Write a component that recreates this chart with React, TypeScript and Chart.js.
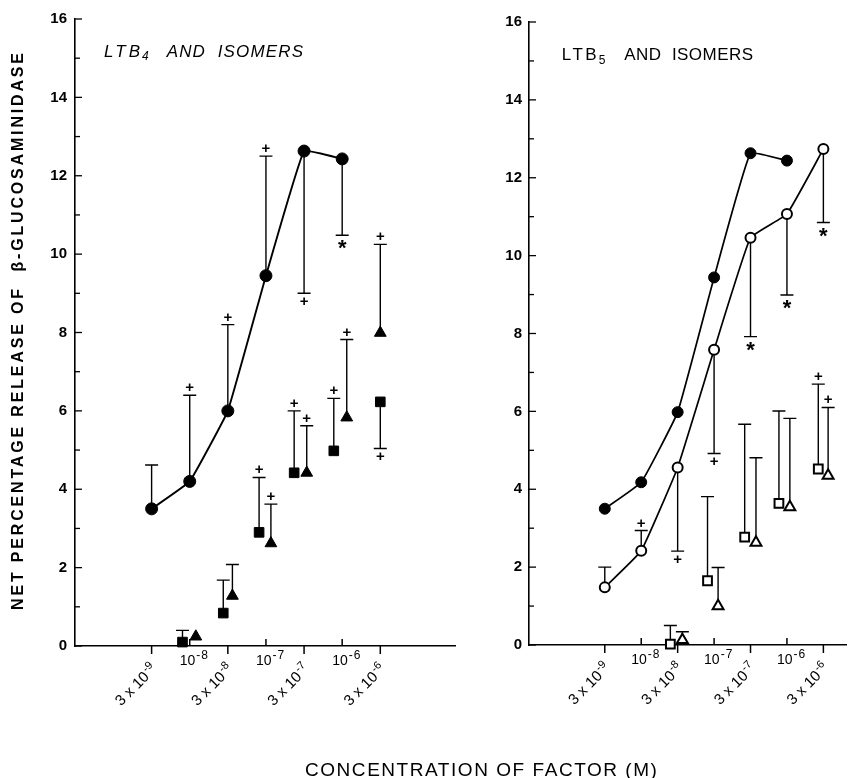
import React, { useEffect, useRef } from 'react';
import { Chart, registerables } from 'chart.js';

Chart.register(...registerables);

const FONT = '"Liberation Sans", Arial, Helvetica, sans-serif';

// ---------- concentration axis (equally spaced categories) ----------
const concIndex = [0, 1, 2, 3, 4, 5, 6];
const tickMantissa = ['3', '', '3', '', '3', '', '3'];
const tickExponent = ['-9', '-8', '-8', '-7', '-7', '-6', '-6'];
const yTickValues = [0, 2, 4, 6, 8, 10, 12, 14, 16];

// ---------- left panel: LTB4 and isomers ----------
const ltb4Idx = [0, 1, 2, 3, 4, 5];
const ltb4Values = [3.5, 4.2, 6.0, 9.45, 12.63, 12.43];
const ltb4ErrEnd = [4.62, 6.4, 8.2, 12.5, 9.0, 10.48];
const ltb4Sig = ['', '+', '+', '+', '+', '*'];

const iso4SqIdx = [1, 2, 3, 4, 5, 6];
const iso4SqValues = [0.1, 0.84, 2.9, 4.42, 4.98, 6.23];
const iso4SqErrEnd = [0.4, 1.68, 4.3, 6.0, 6.32, 5.04];
const iso4SqSig = ['', '', '+', '+', '+', '+'];

const iso4TriIdx = [1, 2, 3, 4, 5, 6];
const iso4TriValues = [0.24, 1.28, 2.62, 4.42, 5.83, 7.99];
const iso4TriErrEnd = [null, 2.08, 3.62, 5.62, 7.82, 10.25];
const iso4TriSig = ['', '', '+', '+', '+', '+'];

// ---------- right panel: LTB5 and isomers ----------
const ltb4RefIdx = [0, 1, 2, 3, 4, 5];
const ltb4RefValues = [3.5, 4.18, 5.98, 9.44, 12.63, 12.44];

const ltb5Idx = [0, 1, 2, 3, 4, 5, 6];
const ltb5Values = [1.48, 2.42, 4.56, 7.58, 10.46, 11.07, 12.74];
const ltb5ErrEnd = [2.0, 2.94, 2.41, 4.92, 7.92, 8.99, 10.85];
const ltb5Sig = ['', '+', '+', '+', '*', '*', '*'];

const iso5SqIdx = [2, 3, 4, 5, 6];
const iso5SqValues = [0.02, 1.65, 2.77, 3.64, 4.52];
const iso5SqErrEnd = [0.5, 3.81, 5.67, 6.01, 6.7];
const iso5SqSig = ['', '', '', '', '+'];

const iso5TriIdx = [2, 3, 4, 5, 6];
const iso5TriValues = [0.13, 1.0, 2.63, 3.54, 4.35];
const iso5TriErrEnd = [0.34, 1.99, 4.81, 5.82, 6.1];
const iso5TriSig = ['', '', '', '', '+'];

// ---------- layout: horizontal side-by-side shifts of markers ----------
const leftSqShift = [-0.19, -0.12, -0.18, -0.26, -0.22, 0];
const leftTriShift = [0.16, 0.12, 0.13, 0.07, 0.12, 0];
const rightSqShift = [-0.2, -0.18, -0.16, -0.22, -0.14];
const rightTriShift = [0.13, 0.11, 0.15, 0.08, 0.13];

function pts(idx: number[], vals: number[], shift?: number[]) {
  return idx.map((c, i) => ({ x: c + (shift ? shift[i] : 0), y: vals[i] }));
}

function setLS(ctx: any, v: number) {
  if ('letterSpacing' in ctx) ctx.letterSpacing = v + 'px';
}

function drawFitted(ctx: CanvasRenderingContext2D, text: string, x: number, y: number, width: number) {
  setLS(ctx, 0);
  const w0 = ctx.measureText(text).width;
  const n = text.length;
  const ls = n > 1 ? (width - w0) / (n - 1) : 0;
  setLS(ctx, ls);
  ctx.fillText(text, x, y);
  setLS(ctx, 0);
}

function drawCentered(ctx: CanvasRenderingContext2D, s: string, cx: number, cy: number) {
  const m = ctx.measureText(s);
  const asc = m.actualBoundingBoxAscent || 0;
  const desc = m.actualBoundingBoxDescent || 0;
  ctx.textAlign = 'center';
  ctx.textBaseline = 'alphabetic';
  ctx.fillText(s, cx, cy + (asc - desc) / 2);
}

const errorBarPlugin = {
  id: 'errorBars',
  beforeDatasetsDraw(chart: any) {
    const { ctx, scales } = chart;
    const xs = scales.x;
    const ys = scales.y;
    ctx.save();
    ctx.strokeStyle = '#000';
    ctx.fillStyle = '#000';
    chart.data.datasets.forEach((ds: any) => {
      if (!ds.errEnd) return;
      ds.data.forEach((p: any, i: number) => {
        const e = ds.errEnd[i];
        if (e === null || e === undefined) return;
        const px = xs.getPixelForValue(p.x);
        const py = ys.getPixelForValue(p.y);
        const pe = ys.getPixelForValue(e);
        ctx.lineWidth = 1.4;
        ctx.beginPath();
        ctx.moveTo(px, py);
        ctx.lineTo(px, pe);
        ctx.moveTo(px - 6.5, pe);
        ctx.lineTo(px + 6.5, pe);
        ctx.stroke();
        const s = ds.sig ? ds.sig[i] : '';
        if (s) {
          const dir = pe < py ? -1 : 1;
          if (s === '+') {
            ctx.font = `bold 15px ${FONT}`;
            drawCentered(ctx, '+', px, pe + dir * 8);
          } else {
            ctx.font = `bold 22px ${FONT}`;
            drawCentered(ctx, '*', px, pe + dir * 9.5);
          }
        }
      });
    });
    ctx.restore();
  },
};

const decorPlugin = {
  id: 'decor',
  afterDraw(chart: any, _args: any, opts: any) {
    const { ctx, chartArea, scales } = chart;
    const xs = scales.x;
    const ys = scales.y;
    ctx.save();
    ctx.fillStyle = '#000';
    ctx.strokeStyle = '#000';
    // y tick marks (inside)
    ctx.lineWidth = 1.3;
    for (let v = 0; v <= 16; v++) {
      const py = ys.getPixelForValue(v);
      const len = yTickValues.includes(v) ? 7 : 5;
      ctx.beginPath();
      ctx.moveTo(chartArea.left, py);
      ctx.lineTo(chartArea.left + len, py);
      ctx.stroke();
    }
    // x tick marks and labels
    const base = chartArea.bottom;
    concIndex.forEach((c, i) => {
      const px = xs.getPixelForValue(c);
      ctx.lineWidth = 1.5;
      ctx.beginPath();
      if (tickMantissa[i]) {
        ctx.moveTo(px, base);
        ctx.lineTo(px, base + 8);
      } else {
        ctx.moveTo(px, base);
        ctx.lineTo(px, base - 7);
      }
      ctx.stroke();
      ctx.textBaseline = 'alphabetic';
      ctx.textAlign = 'left';
      if (tickMantissa[i]) {
        ctx.save();
        ctx.translate(px + 6, base + 24);
        ctx.rotate(-Math.PI / 4);
        ctx.font = `15px ${FONT}`;
        const main = tickMantissa[i] + ' x 10';
        const wMain = ctx.measureText(main).width;
        ctx.font = `11px ${FONT}`;
        const wSup = ctx.measureText(tickExponent[i]).width;
        const total = wMain + 1 + wSup;
        ctx.font = `15px ${FONT}`;
        ctx.fillText(main, -total, 0);
        ctx.font = `11px ${FONT}`;
        ctx.fillText(tickExponent[i], -wSup, -6);
        ctx.restore();
      } else {
        ctx.font = `14px ${FONT}`;
        const x0 = px - 10;
        ctx.fillText('10', x0, base + 19);
        const w10 = ctx.measureText('10').width;
        ctx.font = `12px ${FONT}`;
        setLS(ctx, 1);
        ctx.fillText(tickExponent[i], x0 + w10 + 1, base + 13);
        setLS(ctx, 0);
      }
    });
    // panel title
    if (opts.title) {
      const t = opts.title;
      const tx = chartArea.left + t.dx;
      const ty = chartArea.top + 38;
      ctx.textAlign = 'left';
      ctx.textBaseline = 'alphabetic';
      const style = t.italic ? 'italic ' : '';
      ctx.font = `${style}17px ${FONT}`;
      drawFitted(ctx, t.main, tx, ty, t.mainWidth);
      ctx.font = `${style}12px ${FONT}`;
      ctx.fillText(t.sub, tx + t.mainWidth + 2, ty + t.subDrop);
      ctx.font = `${style}17px ${FONT}`;
      drawFitted(ctx, t.rest, tx + t.restOffset, ty, t.restWidth);
    }
    // y axis title
    if (opts.yTitle) {
      ctx.save();
      ctx.translate(19, 610);
      ctx.rotate(-Math.PI / 2);
      ctx.font = `bold 16px ${FONT}`;
      ctx.textAlign = 'left';
      ctx.textBaseline = 'middle';
      drawFitted(ctx, opts.yTitle, 0, 0, 557);
      ctx.restore();
    }
    // x axis title
    if (opts.xTitle) {
      ctx.font = `19px ${FONT}`;
      ctx.textAlign = 'left';
      ctx.textBaseline = 'alphabetic';
      const head = 'CONCENTRATION OF FACTOR';
      setLS(ctx, 0);
      const w0 = ctx.measureText(head).width;
      const ls = (312 - w0) / (head.length - 1);
      setLS(ctx, ls);
      ctx.fillText(opts.xTitle, 305, 776);
      setLS(ctx, 0);
    }
    ctx.restore();
  },
};

function axes(xmin: number, xmax: number, yWidth: number, yPad: number) {
  const border = { display: true, color: '#000', width: 1.6 };
  const grid = { display: true, drawOnChartArea: false, drawTicks: false };
  return {
    x: {
      type: 'linear',
      min: xmin,
      max: xmax,
      ticks: { display: false },
      grid,
      border,
      afterFit: (s: any) => {
        s.height = 0;
      },
    },
    y: {
      type: 'linear',
      min: 0,
      max: 16,
      ticks: {
        stepSize: 1,
        autoSkip: false,
        padding: yPad,
        color: '#000',
        font: { family: FONT, size: 15, weight: 'bold' },
        callback: (v: any) => (yTickValues.includes(Number(v)) ? String(v) : ''),
      },
      grid,
      border,
      afterFit: (s: any) => {
        s.width = yWidth;
      },
    },
  };
}

const filledCircle = (r: number, lw: number) => ({
  pointStyle: 'circle',
  pointRadius: r,
  pointBackgroundColor: '#000',
  pointBorderColor: '#000',
  pointBorderWidth: 1,
  borderColor: '#000',
  borderWidth: lw,
});

function leftConfig(): any {
  return {
    type: 'scatter',
    data: {
      datasets: [
        {
          label: 'LTB4',
          data: pts(ltb4Idx, ltb4Values),
          errEnd: ltb4ErrEnd,
          sig: ltb4Sig,
          showLine: true,
          tension: 0.08,
          clip: false,
          ...filledCircle(6, 1.9),
        },
        {
          label: 'Isomer (square)',
          data: pts(iso4SqIdx, iso4SqValues, leftSqShift),
          errEnd: iso4SqErrEnd,
          sig: iso4SqSig,
          showLine: false,
          clip: false,
          pointStyle: 'rect',
          pointRadius: 6.8,
          pointBackgroundColor: '#000',
          pointBorderColor: '#000',
          pointBorderWidth: 1,
        },
        {
          label: 'Isomer (triangle)',
          data: pts(iso4TriIdx, iso4TriValues, leftTriShift),
          errEnd: iso4TriErrEnd,
          sig: iso4TriSig,
          showLine: false,
          clip: false,
          pointStyle: 'triangle',
          pointRadius: 6.8,
          pointBackgroundColor: '#000',
          pointBorderColor: '#000',
          pointBorderWidth: 1,
        },
      ],
    },
    options: {
      responsive: false,
      animation: false,
      events: [],
      layout: { padding: { left: 25, top: 19, right: 400, bottom: 132 } },
      scales: axes(-2.01, 7.96, 50, 8),
      plugins: {
        legend: { display: false },
        tooltip: { enabled: false },
        decor: {
          title: { main: 'LTB', sub: '4', rest: 'AND  ISOMERS', italic: true, dx: 29, mainWidth: 36, subDrop: 3, restOffset: 62.7, restWidth: 136.3 },
          yTitle: 'NET PERCENTAGE RELEASE OF  β-GLUCOSAMINIDASE',
          xTitle: 'CONCENTRATION OF FACTOR (M)',
        },
      },
    },
    plugins: [errorBarPlugin, decorPlugin],
  };
}

function rightConfig(): any {
  return {
    type: 'scatter',
    data: {
      datasets: [
        {
          label: 'LTB4',
          data: pts(ltb4RefIdx, ltb4RefValues),
          showLine: true,
          tension: 0.1,
          clip: false,
          ...filledCircle(5.5, 1.7),
        },
        {
          label: 'LTB5',
          data: pts(ltb5Idx, ltb5Values),
          errEnd: ltb5ErrEnd,
          sig: ltb5Sig,
          showLine: true,
          tension: 0.1,
          clip: false,
          pointStyle: 'circle',
          pointRadius: 5,
          pointBackgroundColor: '#fff',
          pointBorderColor: '#000',
          pointBorderWidth: 2,
          borderColor: '#000',
          borderWidth: 1.7,
        },
        {
          label: 'Isomer (open square)',
          data: pts(iso5SqIdx, iso5SqValues, rightSqShift),
          errEnd: iso5SqErrEnd,
          sig: iso5SqSig,
          showLine: false,
          clip: false,
          pointStyle: 'rect',
          pointRadius: 6.2,
          pointBackgroundColor: '#fff',
          pointBorderColor: '#000',
          pointBorderWidth: 2,
        },
        {
          label: 'Isomer (open triangle)',
          data: pts(iso5TriIdx, iso5TriValues, rightTriShift),
          errEnd: iso5TriErrEnd,
          sig: iso5TriSig,
          showLine: false,
          clip: false,
          pointStyle: 'triangle',
          pointRadius: 6.3,
          pointBackgroundColor: '#fff',
          pointBorderColor: '#000',
          pointBorderWidth: 2,
        },
      ],
    },
    options: {
      responsive: false,
      animation: false,
      events: [],
      layout: { padding: { left: 24, top: 22, right: 0, bottom: 133 } },
      scales: axes(-2.08, 6.64, 45, 7),
      plugins: {
        legend: { display: false },
        tooltip: { enabled: false },
        decor: {
          title: { main: 'LTB', sub: '5', rest: 'AND  ISOMERS', italic: false, dx: 32.7, mainWidth: 35, subDrop: 4, restOffset: 62.6, restWidth: 128.7 },
        },
      },
    },
    plugins: [errorBarPlugin, decorPlugin],
  };
}

export default function App() {
  const leftRef = useRef<HTMLCanvasElement>(null);
  const rightRef = useRef<HTMLCanvasElement>(null);
  useEffect(() => {
    const c1 = new Chart(leftRef.current as HTMLCanvasElement, leftConfig());
    const c2 = new Chart(rightRef.current as HTMLCanvasElement, rightConfig());
    return () => {
      c1.destroy();
      c2.destroy();
    };
  }, []);
  return (
    <div style={{ position: 'absolute', left: 0, top: 0, width: 855, height: 778, background: '#fff', overflow: 'hidden' }}>
      <canvas ref={leftRef} width={855} height={778} style={{ position: 'absolute', left: 0, top: 0, width: 855, height: 778 }} />
      <canvas ref={rightRef} width={395} height={778} style={{ position: 'absolute', left: 460, top: 0, width: 395, height: 778 }} />
    </div>
  );
}
